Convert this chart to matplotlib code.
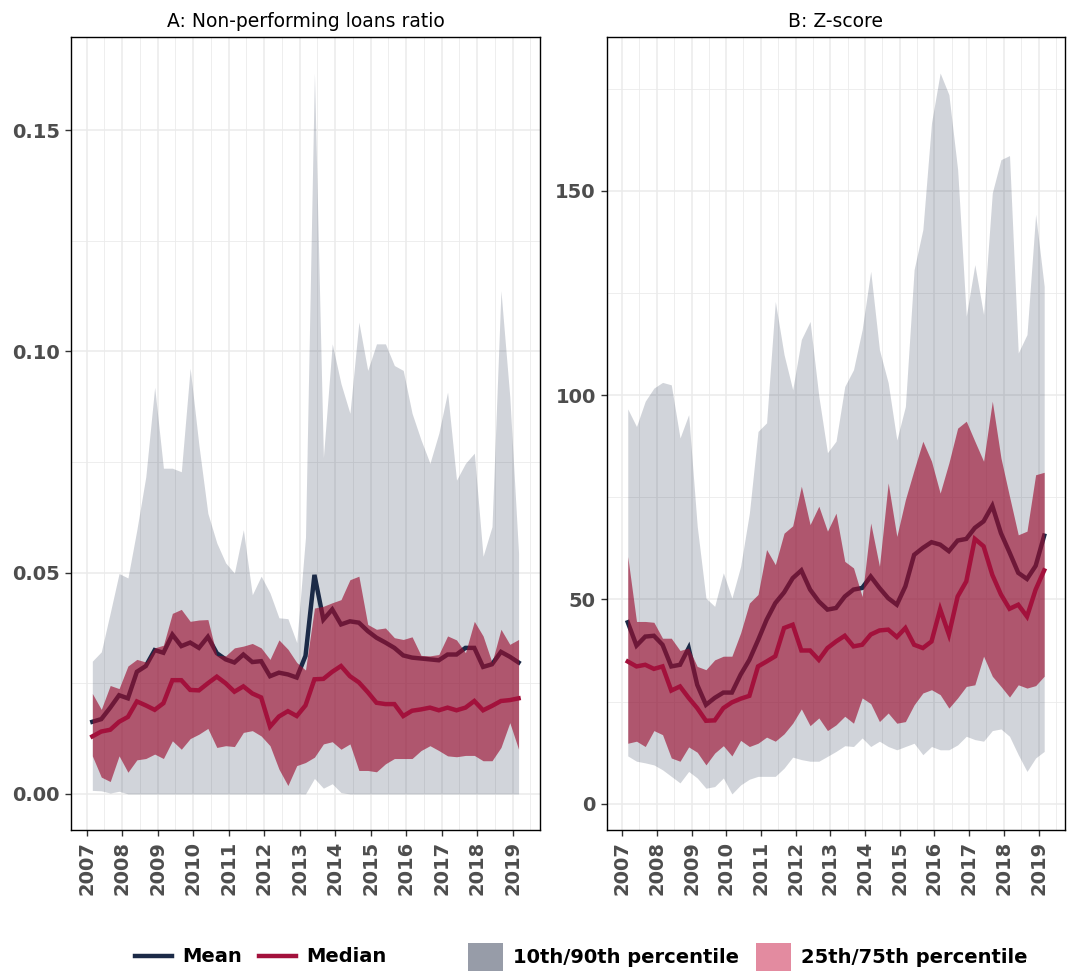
import numpy as np
import pandas as pd
import matplotlib
matplotlib.use("Agg")
import matplotlib.pyplot as plt
import matplotlib.dates as mdates
from matplotlib.lines import Line2D
from matplotlib.patches import Patch

# quarterly observations, 2007Q1 - 2019Q1
dates = pd.date_range("2007-03-01", periods=49, freq="QS-MAR")

# A: non-performing loans ratio
npl_mean = [0.0163, 0.0169, 0.0195, 0.0223, 0.0216, 0.0276, 0.0289, 0.0325, 0.0319, 0.0360,
            0.0334, 0.0342, 0.0330, 0.0355, 0.0318, 0.0304, 0.0297, 0.0315, 0.0298, 0.0300,
            0.0266, 0.0274, 0.0270, 0.0263, 0.0312, 0.0495, 0.0394, 0.0417, 0.0383, 0.0390,
            0.0387, 0.0368, 0.0353, 0.0342, 0.0330, 0.0313, 0.0308, 0.0306, 0.0304, 0.0302,
            0.0315, 0.0315, 0.0330, 0.0330, 0.0287, 0.0293, 0.0321, 0.0310, 0.0297]
npl_median = [0.0130, 0.0141, 0.0145, 0.0163, 0.0174, 0.0209, 0.0200, 0.0190, 0.0205, 0.0257,
              0.0257, 0.0235, 0.0234, 0.0250, 0.0265, 0.0250, 0.0231, 0.0243, 0.0227, 0.0218,
              0.0152, 0.0175, 0.0187, 0.0176, 0.0200, 0.0259, 0.0260, 0.0276, 0.0289, 0.0266,
              0.0252, 0.0230, 0.0206, 0.0203, 0.0203, 0.0176, 0.0188, 0.0191, 0.0195, 0.0189,
              0.0195, 0.0189, 0.0195, 0.0210, 0.0189, 0.0199, 0.0210, 0.0212, 0.0216]
npl_p25 = [0.0086, 0.0038, 0.0028, 0.0086, 0.0049, 0.0077, 0.0080, 0.0090, 0.0080, 0.0120,
           0.0101, 0.0125, 0.0135, 0.0148, 0.0105, 0.0109, 0.0107, 0.0139, 0.0143, 0.0131,
           0.0109, 0.0056, 0.0019, 0.0064, 0.0071, 0.0083, 0.0113, 0.0118, 0.0101, 0.0113,
           0.0053, 0.0053, 0.0050, 0.0068, 0.0080, 0.0080, 0.0080, 0.0098, 0.0109, 0.0098,
           0.0086, 0.0084, 0.0087, 0.0087, 0.0075, 0.0075, 0.0105, 0.0161, 0.0101]
npl_p75 = [0.0227, 0.0191, 0.0245, 0.0238, 0.0289, 0.0304, 0.0298, 0.0330, 0.0336, 0.0408,
           0.0417, 0.0390, 0.0393, 0.0394, 0.0313, 0.0312, 0.0330, 0.0334, 0.0340, 0.0330,
           0.0304, 0.0348, 0.0327, 0.0297, 0.0280, 0.0420, 0.0424, 0.0432, 0.0439, 0.0484,
           0.0492, 0.0383, 0.0372, 0.0375, 0.0353, 0.0349, 0.0355, 0.0313, 0.0312, 0.0315,
           0.0357, 0.0348, 0.0319, 0.0390, 0.0357, 0.0297, 0.0372, 0.0338, 0.0349]
npl_p10 = [0.0008, 0.0007, 0.0002, 0.0006, 0.0000, 0.0000, 0.0000, 0.0000, 0.0000, 0.0000,
           0.0000, 0.0000, 0.0000, 0.0000, 0.0000, 0.0000, 0.0000, 0.0000, 0.0000, 0.0000,
           0.0000, 0.0000, 0.0000, 0.0000, 0.0000, 0.0035, 0.0013, 0.0023, 0.0003, 0.0000,
           0.0000, 0.0000, 0.0000, 0.0000, 0.0000, 0.0000, 0.0000, 0.0000, 0.0000, 0.0000,
           0.0000, 0.0000, 0.0000, 0.0000, 0.0000, 0.0000, 0.0000, 0.0000, 0.0000]
npl_p90 = [0.0300, 0.0321, 0.0409, 0.0498, 0.0488, 0.0597, 0.0717, 0.0919, 0.0736, 0.0736,
           0.0728, 0.0962, 0.0788, 0.0634, 0.0567, 0.0522, 0.0499, 0.0597, 0.0450, 0.0492,
           0.0454, 0.0398, 0.0396, 0.0342, 0.0580, 0.1629, 0.0760, 0.1017, 0.0927, 0.0860,
           0.1066, 0.0957, 0.1017, 0.1017, 0.0968, 0.0957, 0.0860, 0.0800, 0.0747, 0.0815,
           0.0908, 0.0709, 0.0747, 0.0770, 0.0537, 0.0604, 0.1137, 0.0897, 0.0544]

# B: Z-score
z_mean = [44.4, 38.7, 40.9, 41.1, 38.9, 33.6, 34.0, 38.1, 29.1, 24.2,
          25.9, 27.2, 27.2, 31.6, 35.2, 40.0, 45.0, 49.1, 51.7, 55.2,
          57.1, 52.4, 49.5, 47.5, 47.9, 50.7, 52.4, 52.8, 55.6, 52.8,
          50.3, 48.7, 53.2, 60.9, 62.6, 64.0, 63.4, 61.8, 64.4, 64.8,
          67.5, 69.1, 72.9, 66.2, 61.5, 56.5, 55.0, 58.2, 65.6]
z_median = [34.8, 33.6, 34.0, 33.0, 33.6, 27.7, 28.7, 25.9, 23.4, 20.3,
            20.4, 23.4, 24.8, 25.7, 26.4, 33.6, 34.8, 36.1, 43.0, 43.8,
            37.5, 37.5, 35.2, 38.1, 39.7, 41.1, 38.5, 38.9, 41.4, 42.4,
            42.6, 40.8, 43.0, 38.9, 38.1, 39.7, 47.6, 41.4, 50.7, 54.4,
            64.8, 63.0, 56.0, 51.2, 47.7, 48.7, 45.8, 52.4, 57.1]
z_p25 = [14.8, 15.3, 14.0, 17.9, 16.9, 11.2, 10.4, 13.9, 12.6, 9.5,
         12.4, 14.2, 11.7, 15.5, 14.0, 14.8, 16.3, 15.3, 17.1, 19.7,
         23.2, 19.1, 21.0, 17.9, 19.3, 21.4, 19.7, 25.9, 24.5, 20.1,
         22.2, 19.7, 20.1, 24.2, 27.1, 27.9, 26.7, 23.4, 25.9, 28.7,
         29.1, 36.1, 31.2, 28.7, 26.1, 29.1, 28.3, 28.9, 31.2]
z_p75 = [60.5, 44.6, 44.6, 44.4, 40.5, 40.5, 37.5, 38.1, 33.6, 32.8,
         35.2, 36.1, 36.1, 41.8, 49.1, 51.2, 62.2, 58.5, 66.2, 68.0,
         77.7, 68.3, 72.8, 66.7, 71.1, 59.3, 57.7, 50.7, 68.7, 58.1,
         78.5, 65.4, 74.4, 81.7, 88.7, 83.8, 76.0, 83.4, 91.9, 93.6,
         88.7, 83.8, 98.5, 84.6, 75.2, 65.8, 66.7, 80.5, 81.1]
z_p10 = [11.7, 10.4, 10.0, 9.5, 8.3, 6.7, 5.1, 7.9, 6.3, 3.8,
         4.2, 6.3, 2.4, 4.6, 6.0, 6.7, 6.7, 6.7, 8.7, 11.4,
         10.8, 10.4, 10.4, 11.6, 12.8, 14.2, 14.0, 16.1, 14.0, 15.3,
         14.0, 13.2, 14.0, 14.8, 12.0, 14.0, 13.2, 13.2, 14.4, 16.5,
         15.7, 15.3, 17.9, 18.3, 16.5, 12.0, 7.9, 11.2, 12.8]
z_p90 = [96.6, 92.3, 98.5, 101.7, 103.1, 102.5, 89.5, 95.2, 67.9, 50.3,
         48.3, 56.5, 50.3, 58.1, 71.1, 91.1, 93.2, 122.9, 109.9, 101.3,
         113.6, 118.0, 99.7, 85.9, 88.7, 102.1, 106.2, 116.0, 130.3, 111.1,
         103.0, 89.0, 97.2, 130.7, 140.5, 166.6, 178.8, 173.5, 155.2, 119.3,
         131.9, 119.7, 149.5, 157.6, 158.6, 110.3, 114.8, 144.2, 126.6]

navy = "#1b2a47"
crimson = "#a3113c"
band_red = "#9d0f31"

plt.rcParams["font.family"] = "DejaVu Sans"

fig = plt.figure(figsize=(10.68, 9.73), dpi=100)
axA = fig.add_axes([0.0665, 0.147, 0.439, 0.815])
axB = fig.add_axes([0.5683, 0.147, 0.4289, 0.815])


def panel(ax, title, mean, median, p25, p75, p10, p90, yticks, fmt):
    ax.fill_between(dates, p10, p90, color=navy, alpha=0.2, lw=0, zorder=2)
    ax.plot(dates, mean, color=navy, lw=3.2, zorder=3, solid_joinstyle="miter")
    ax.fill_between(dates, p25, p75, color=band_red, alpha=0.64, lw=0, zorder=4)
    ax.plot(dates, median, color=crimson, lw=3.2, zorder=5, solid_joinstyle="miter")
    ax.set_title(title, fontsize=13.5, pad=7)

    ax.xaxis.set_major_locator(mdates.YearLocator())
    ax.xaxis.set_major_formatter(mdates.DateFormatter("%Y"))
    ax.xaxis.set_minor_locator(mdates.MonthLocator(bymonth=7))
    ax.set_yticks(yticks)
    ax.set_yticklabels([fmt.format(v) for v in yticks])
    step = yticks[1] - yticks[0]
    ax.set_yticks(np.arange(yticks[0] + step / 2, yticks[-1] + step, step), minor=True)

    # ggplot-style 5% expansion of the data range (set after the ticks)
    lo, hi = min(p10), max(p90)
    pad = 0.05 * (hi - lo)
    ax.set_ylim(lo - pad, hi + pad)
    x0, x1 = mdates.date2num(dates[0]), mdates.date2num(dates[-1])
    xpad = 0.05 * (x1 - x0)
    ax.set_xlim(x0 - xpad, x1 + xpad)

    ax.grid(True, which="major", color="#ebebeb", lw=1.1, zorder=0)
    ax.grid(True, which="minor", color="#ebebeb", lw=0.6, zorder=0)
    ax.set_axisbelow(True)
    ax.tick_params(which="major", length=4.5, width=1, color="#333333",
                   labelsize=14, labelcolor="#4d4d4d")
    ax.tick_params(which="minor", length=0)
    ax.tick_params(axis="x", labelrotation=90)
    for lab in ax.get_xticklabels() + ax.get_yticklabels():
        lab.set_fontweight("bold")
    for s in ax.spines.values():
        s.set_color("black")
        s.set_linewidth(1.0)


panel(axA, "A: Non-performing loans ratio", npl_mean, npl_median, npl_p25, npl_p75,
      npl_p10, npl_p90, [0.0, 0.05, 0.10, 0.15], "{:.2f}")
panel(axB, "B: Z-score", z_mean, z_median, z_p25, z_p75, z_p10, z_p90,
      [0, 50, 100, 150], "{:.0f}")

line_handles = [Line2D([], [], color=navy, lw=3.2), Line2D([], [], color=crimson, lw=3.2)]
fill_handles = [Patch(facecolor="#979ca8", edgecolor="none"),
                Patch(facecolor="#e38ba0", edgecolor="none")]
leg_kw = dict(frameon=False, ncol=2, handletextpad=0.5, borderaxespad=0,
              prop={"weight": "bold", "size": 14})
fig.legend(line_handles, ["Mean", "Median"], loc="center", bbox_to_anchor=(0.244, 0.0165),
           handlelength=1.9, columnspacing=0.9, **leg_kw)
fig.legend(fill_handles, ["10th/90th percentile", "25th/75th percentile"], loc="center",
           bbox_to_anchor=(0.7, 0.0165), handlelength=1.8, handleheight=1.8,
           columnspacing=0.9, **leg_kw)

fig.savefig("out.png", dpi=100)
